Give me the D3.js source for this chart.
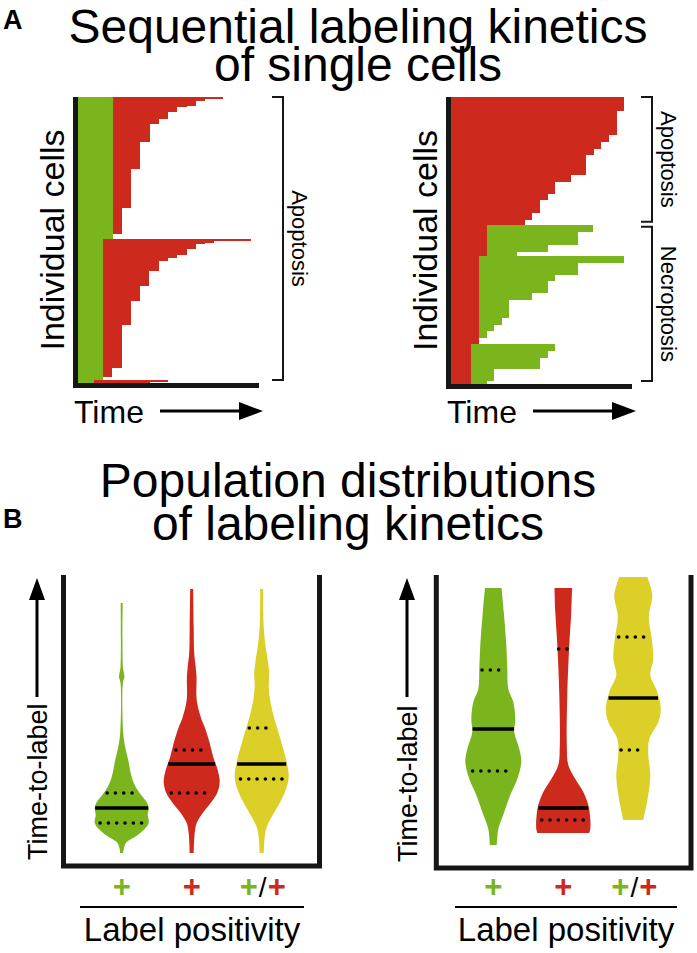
<!DOCTYPE html>
<html><head><meta charset="utf-8">
<script src="https://cdn.jsdelivr.net/npm/d3@7"></script>
<style>body{margin:0;background:#fff}svg{display:block}</style>
</head><body>
<svg id="c" width="697" height="953"></svg>
<script>
// ---------- DATA ----------
// Panel A, left: steps of cells (top to bottom): number of cells, green end time, red end time
const leftCells = [1,1,3,1,3,4,3,11,16,23,16,3, 1,1,1,3,3,2,2,6,9,9,14,26,5,2, 1,1];
const leftGreenEnd = [35,35,35,35,35,35,35,35,35,35,35,35, 25,25,25,25,25,25,25,25,25,25,25,25,25,25, 16,16];
const leftRedEnd = [145,127,118,109,99,90,81,71.5,62,53,44,35, 173,136,127,118,109,99,90,81,71,62,53,44,34,25, 90,72];
const leftGroups = [{label:"Apoptosis", from:0, to:171}];

// Panel A, right: red first (0 -> redEnd) then green (redEnd -> greenEnd)
const rightCells = [8,15,4,4,4,12,4,7,4,8,4,3, 4,8,4,3,4,7,4,7,4,11,4,4,4,4, 4,4,7,7,2];
const rightRedEnd = [173,166,158,150,143,135,120,104,97,89,81,74, 36,36,36,36,28,28,28,28,28,28,28,28,28,28, 20,20,20,20,20];
const rightGreenEnd = [173,166,158,150,143,135,120,104,97,89,81,74, 142,127,97,66,173,127,104,97,81,58,51,43,36,28, 104,97,89,43,36];
const rightGroups = [{label:"Apoptosis", from:0, to:77}, {label:"Necroptosis", from:77, to:173}];

// Panel B violins: profile [time-to-label, half width], quartiles [q1, median, q3]
const violinCats = ["green", "red", "both"];
const leftViolins = [
  {cat:"green", profile:[[261,1],[197,1.2],[192,2],[187,2.7],[181,1.2],[131,1.5],[117,3.5],[104,6.5],[87,10],[77,14],[67,21],[61,25.5],[56,27],[49,26],[41,27],[34,22],[27,13],[22,5],[17,2.5],[11,1.5]], q:[41,56,71]},
  {cat:"red", profile:[[275,1.5],[237,2],[211,2.5],[197,4],[187,4.8],[164,5],[147,9],[134,14],[121,18],[107,21.5],[94,26],[82,28],[71,25.5],[61,19],[51,11],[41,5],[31,3],[11,2]], q:[71,100,114]},
  {cat:"both", profile:[[275,1.5],[237,2],[217,4],[204,6],[191,7.5],[177,7],[161,9],[144,13],[131,17],[117,21],[104,24.5],[87,27],[74,24],[61,18],[47,10],[37,5],[27,3],[11,2]], q:[85,100,136]}
];
const rightViolins = [
  {cat:"green", profile:[[278,8.3],[254,10.5],[221,13],[197,14],[177,15],[164,20],[147,22],[134,21],[117,26],[104,28],[87,24],[71,17],[54,11],[37,5],[21,3.5]], q:[95,137,196]},
  {cat:"red", profile:[[278,8.8],[254,8],[221,6],[171,4],[121,3.5],[101,5],[87,12],[74,20],[61,25],[47,27],[37,27],[33,26]], q:[46,58,217]},
  {cat:"both", profile:[[289,14],[271,19],[249,15.5],[227,18.5],[207,20],[191,17],[174,24],[157,27.5],[144,25],[127,16],[111,15],[91,17],[71,15],[46,10]], q:[116,168,229]}
];

// ---------- STYLE ----------
const GREEN = "#7ab51e", RED = "#cd291d", YELLOW = "#dccf28", BLACK = "#161616";
const catColor = {green: GREEN, red: RED, both: YELLOW};
const FONT = "'Liberation Sans', Arial, Helvetica, sans-serif";
const svg = d3.select("#c").attr("font-family", FONT);

function text(s, x, y, size, o = {}) {
  const t = svg.append("text").attr("x", 0).attr("y", 0)
    .attr("transform", `translate(${x},${y}) rotate(${o.rot || 0})`)
    .attr("font-size", size).attr("text-anchor", o.anchor || "start")
    .attr("font-weight", o.weight || "normal").attr("fill", o.fill || "#000")
    .text(s);
  return t;
}

// ---------- TITLES ----------
text("A", 3, 29, 27, {weight: "bold"});
text("Sequential labeling kinetics", 358, 43, 48, {anchor: "middle"});
text("of single cells", 358, 81, 48, {anchor: "middle"});
text("B", 3, 528, 27, {weight: "bold"});
text("Population distributions", 348, 497, 48, {anchor: "middle"});
text("of labeling kinetics", 348, 540, 48, {anchor: "middle"});

// ---------- PANEL A ----------
function cellChart(cfg) {
  const x = d3.scaleLinear().domain([0, 181]).range(cfg.xRange);
  const total = d3.sum(cfg.cells);
  const y = d3.scaleLinear().domain([0, total]).range(cfg.yRange);
  const cum = d3.cumsum(cfg.cells);
  const rows = cfg.cells.map((n, i) => ({s: cum[i] - n, e: cum[i], a: cfg.firstEnd[i], b: cfg.secondEnd[i]}));
  const g = svg.append("g").attr("shape-rendering", "crispEdges");
  g.selectAll("rect.a").data(rows).join("rect")
    .attr("x", x(0)).attr("y", d => y(d.s))
    .attr("width", d => x(d.a) - x(0)).attr("height", d => y(d.e) - y(d.s) + 0.3)
    .attr("fill", cfg.firstColor);
  g.selectAll("rect.b").data(rows.filter(d => d.b > d.a)).join("rect")
    .attr("x", d => x(d.a)).attr("y", d => y(d.s))
    .attr("width", d => x(d.b) - x(d.a)).attr("height", d => y(d.e) - y(d.s) + 0.3)
    .attr("fill", cfg.secondColor);
  // axes (thick bars)
  const ax = svg.append("g").attr("stroke", BLACK).attr("stroke-width", 5).attr("fill", "none");
  ax.append("line").attr("x1", x(0) - 2.5).attr("x2", x(0) - 2.5).attr("y1", y(0)).attr("y2", y(total) + 5);
  ax.append("line").attr("x1", x(0) - 5).attr("x2", x(181)).attr("y1", y(total) + 2.5).attr("y2", y(total) + 2.5);
  // brackets
  cfg.groups.forEach(gr => {
    const y0 = y(gr.from) + (gr.from ? 2 : 0), y1 = y(gr.to) - 3;
    svg.append("path").attr("fill", "none").attr("stroke", BLACK).attr("stroke-width", 2)
      .attr("d", `M${cfg.bracketX - 11},${y0}H${cfg.bracketX}V${y1}H${cfg.bracketX - 11}`);
    text(gr.label, cfg.bracketX + 9, (y0 + y1) / 2, 22, {rot: 90, anchor: "middle"});
  });
  // labels
  text("Individual cells", x(0) - 14, (y(0) + y(total)) / 2, 34, {rot: -90, anchor: "middle"});
  text("Time", x(0) - 4, 423, 32);
  const ay = 411, ax0 = x(0) + 82, ax1 = x(0) + 185;
  svg.append("line").attr("x1", ax0).attr("x2", ax1 - 18).attr("y1", ay).attr("y2", ay)
    .attr("stroke", "#000").attr("stroke-width", 3);
  svg.append("path").attr("d", `M${ax1},${ay}L${ax1 - 24},${ay - 9}L${ax1 - 24},${ay + 9}Z`).attr("fill", "#000");
}
cellChart({xRange: [78, 259], yRange: [97, 383], cells: leftCells, firstEnd: leftGreenEnd, secondEnd: leftRedEnd,
  firstColor: GREEN, secondColor: RED, groups: leftGroups, bracketX: 283});
cellChart({xRange: [451, 632], yRange: [97, 384], cells: rightCells, firstEnd: rightRedEnd, secondEnd: rightGreenEnd,
  firstColor: RED, secondColor: GREEN, groups: rightGroups, bracketX: 652});

// ---------- PANEL B ----------
function violinPanel(cfg) {
  const t = d3.scaleLinear().domain([0, 290]).range([cfg.bottom, cfg.bottom - 290]);
  const w = d3.scaleLinear().domain([0, 30]).range([0, 30]);
  const xb = d3.scaleBand().domain(violinCats).range(cfg.xRange);
  const cx = c => xb(c) + xb.bandwidth() / 2;
  // box
  svg.append("path").attr("fill", "none").attr("stroke", BLACK).attr("stroke-width", 5)
    .attr("d", `M${cfg.boxX[0]},575V${cfg.bottom + 2}H${cfg.boxX[1]}V575`);
  cfg.violins.forEach(v => {
    const c = cx(v.cat);
    const area = d3.area().curve(d3.curveCatmullRom.alpha(0.5))
      .y(d => t(d[0])).x0(d => c - w(d[1])).x1(d => c + w(d[1]));
    svg.append("path").datum(v.profile).attr("d", area).attr("fill", catColor[v.cat]);
    const prof = v.profile.slice().sort((a, b) => a[0] - b[0]);
    const hwAt = tv => {
      const i = d3.bisector(d => d[0]).left(prof, tv);
      if (i <= 0) return prof[0][1];
      if (i >= prof.length) return prof[prof.length - 1][1];
      const a = prof[i - 1], b = prof[i];
      return a[1] + (b[1] - a[1]) * (tv - a[0]) / (b[0] - a[0]);
    };
    // median
    const hm = hwAt(v.q[1]);
    svg.append("line").attr("x1", c - w(hm) + 0.5).attr("x2", c + w(hm) - 0.5)
      .attr("y1", t(v.q[1])).attr("y2", t(v.q[1])).attr("stroke", "#000").attr("stroke-width", 3.5);
    [v.q[0], v.q[2]].forEach(qv => {
      const h = hwAt(qv) * 0.8;
      svg.append("line").attr("x1", c - w(h)).attr("x2", c + w(h))
        .attr("y1", t(qv)).attr("y2", t(qv)).attr("stroke", "#000").attr("stroke-width", 3.6)
        .attr("stroke-linecap", "round").attr("stroke-dasharray", "0 8.3");
    });
  });
  // category labels
  const py = 897;
  text("+", cx("green"), py, 31, {anchor: "middle", weight: "bold", fill: GREEN});
  text("+", cx("red"), py, 31, {anchor: "middle", weight: "bold", fill: RED});
  text("+", cx("both") - 13, py, 31, {anchor: "middle", weight: "bold", fill: GREEN});
  text("/", cx("both") + 1, py, 28, {anchor: "middle", fill: "#000"});
  text("+", cx("both") + 15, py, 31, {anchor: "middle", weight: "bold", fill: RED});
  svg.append("line").attr("x1", cfg.lineX[0]).attr("x2", cfg.lineX[1]).attr("y1", 907).attr("y2", 907)
    .attr("stroke", "#000").attr("stroke-width", 2);
  text("Label positivity", (cfg.lineX[0] + cfg.lineX[1]) / 2, 941, 33, {anchor: "middle"});
  // y label with arrow
  text("Time-to-label", cfg.labelX, cfg.bottom - 4, 27, {rot: -90});
  const axx = cfg.labelX - 10;
  svg.append("line").attr("x1", axx).attr("x2", axx).attr("y1", 697).attr("y2", 596)
    .attr("stroke", "#000").attr("stroke-width", 3);
  svg.append("path").attr("d", `M${axx},578L${axx - 8},600L${axx + 8},600Z`).attr("fill", "#000");
}
violinPanel({xRange: [86.7, 296.7], bottom: 864, boxX: [63.5, 319.5], violins: leftViolins, lineX: [80, 304], labelX: 47});
violinPanel({xRange: [458.3, 668.3], bottom: 866, boxX: [436.3, 691], violins: rightViolins, lineX: [455, 677], labelX: 417});
</script>
</body></html>
